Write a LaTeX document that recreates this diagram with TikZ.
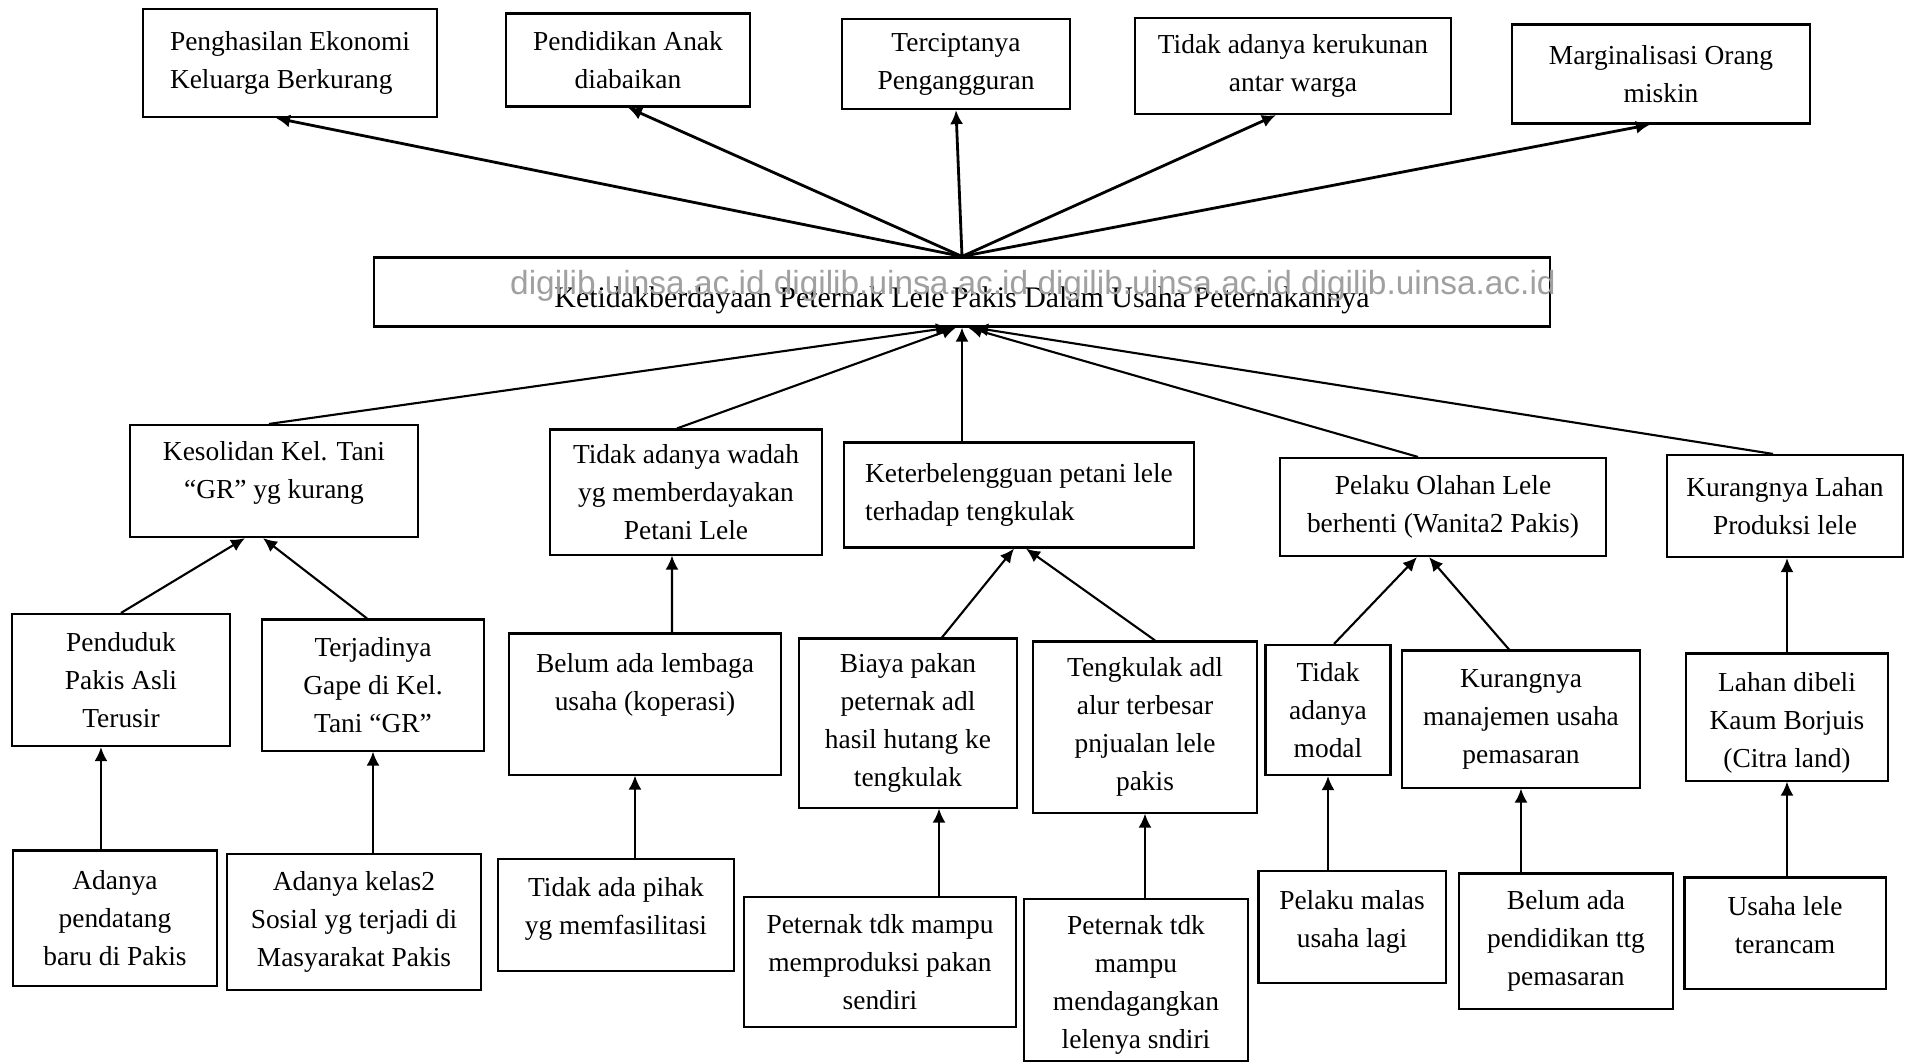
\documentclass[tikz,border=0pt]{standalone}
\usepackage{fontspec}
\setmainfont{Liberation Serif}
\newfontfamily\wmfont{Liberation Sans}
\usepackage{xcolor}
\definecolor{cMark}{HTML}{A0A0A0}
\usepackage{tikz}
\usetikzlibrary{arrows.meta}

\newcommand{\boxfont}{\fontsize{7.8}{10.8}\selectfont}
\newcommand{\lift}[1]{\rule[-#1]{0pt}{#1}}
\newcommand{\drop}[1]{\rule{0pt}{#1}}

\begin{document}
\begin{tikzpicture}[x=0.01cm, y=-0.01cm,
    box/.style={draw, line width=0.6pt, align=center, inner sep=2pt,
                font=\boxfont},
    mainbox/.style={draw, line width=0.6pt, align=center, inner sep=2pt,
                    font=\fontsize{8.5}{10.8}\selectfont},
    wmark/.style={text=cMark, inner sep=0pt,
                  font=\wmfont\fontsize{9.5}{11}\selectfont},
    arr/.style={-{Latex[length=1.4mm, width=1.3mm]}, line width=0.6pt}
]
\useasboundingbox (0,0) rectangle (1905,1062);

% akibat
\node[box, align=left, minimum width=2.93cm, minimum height=1.08cm] (hasil) at (290,63) {Penghasilan Ekonomi\\Keluarga Berkurang};
\node[box, minimum width=2.43cm, minimum height=0.93cm] (didik) at (628,60) {Pendidikan Anak\\diabaikan};
\node[box, minimum width=2.28cm, minimum height=0.90cm] (anggur) at (956,64) {Terciptanya\\Pengangguran};
\node[box, minimum width=3.16cm, minimum height=0.96cm] (rukun) at (1293,66) {Tidak adanya kerukunan\\antar warga};
\node[box, minimum width=2.97cm, minimum height=0.99cm] (margin) at (1661,74) {Marginalisasi Orang\\miskin};

% masalah inti
\node[mainbox, minimum width=11.76cm, minimum height=0.69cm] (inti) at (962,292) {\drop{10.9pt}Ketidakberdayaan Peternak Lele Pakis Dalam Usaha Peternakannya};
\node[wmark] (wm) at (1033,286) {digilib.uinsa.ac.id digilib.uinsa.ac.id digilib.uinsa.ac.id digilib.uinsa.ac.id};

% sebab
\node[box, minimum width=2.88cm, minimum height=1.12cm] (solid) at (274,481) {Kesolidan Kel. Tani\\“GR” yg kurang\lift{6.5pt}};
\node[box, minimum width=2.71cm, minimum height=1.25cm] (wadah) at (686,492) {Tidak adanya wadah\\yg memberdayakan\\Petani Lele};
\node[box, align=left, minimum width=3.49cm, minimum height=1.05cm] (tengk) at (1019,495) {Keterbelengguan petani lele\\terhadap tengkulak};
\node[box, minimum width=3.26cm, minimum height=0.98cm] (olahan) at (1443,507) {Pelaku Olahan Lele\\berhenti (Wanita2 Pakis)};
\node[box, minimum width=2.36cm, minimum height=1.02cm] (lahan) at (1785,506) {Kurangnya Lahan\\Produksi lele};

\node[box, minimum width=2.17cm, minimum height=1.32cm] (usir) at (121,680) {Penduduk\\Pakis Asli\\Terusir};
\node[box, minimum width=2.22cm, minimum height=1.31cm] (gape) at (373,685) {Terjadinya\\Gape di Kel.\\Tani “GR”};
\node[box, minimum width=2.72cm, minimum height=1.41cm] (lembaga) at (645,704) {Belum ada lembaga\\usaha (koperasi)\lift{12.5pt}};
\node[box, minimum width=2.17cm, minimum height=1.69cm] (pakan) at (908,723) {Biaya pakan\\peternak adl\\hasil hutang ke\\tengkulak};
\node[box, minimum width=2.23cm, minimum height=1.71cm] (alur) at (1145,727) {Tengkulak adl\\alur terbesar\\pnjualan lele\\pakis};
\node[box, minimum width=1.25cm, minimum height=1.30cm] (modal) at (1328,710) {Tidak\\adanya\\modal};
\node[box, minimum width=2.37cm, minimum height=1.37cm] (manaj) at (1521,719) {Kurangnya\\manajemen usaha\\pemasaran};
\node[box, minimum width=2.02cm, minimum height=1.27cm] (beli) at (1787,717) {\drop{8.7pt}Lahan dibeli\\Kaum Borjuis\\(Citra land)};

\node[box, minimum width=2.04cm, minimum height=1.35cm] (datang) at (115,918) {Adanya\\pendatang\\baru di Pakis};
\node[box, minimum width=2.54cm, minimum height=1.36cm] (kelas) at (354,922) {Adanya kelas2\\Sosial yg terjadi di\\Masyarakat Pakis};
\node[box, minimum width=2.36cm, minimum height=1.12cm] (pihak) at (616,915) {Tidak ada pihak\\yg memfasilitasi\lift{5.1pt}};
\node[box, minimum width=2.71cm, minimum height=1.30cm] (produksi) at (880,962) {Peternak tdk mampu\\memproduksi pakan\\sendiri};
\node[box, minimum width=2.24cm, minimum height=1.59cm] (dagang) at (1136,980) {\drop{8.1pt}Peternak tdk\\mampu\\mendagangkan\\lelenya sndiri};
\node[box, minimum width=1.87cm, minimum height=1.12cm] (malas) at (1352,927) {Pelaku malas\\usaha lagi\lift{4.5pt}};
\node[box, minimum width=2.14cm, minimum height=1.35cm] (pasar) at (1566,941) {Belum ada\\pendidikan ttg\\pemasaran};
\node[box, minimum width=2.01cm, minimum height=1.11cm] (ancam) at (1785,933) {Usaha lele\\terancam\lift{4.6pt}};

% panah akibat
\draw[arr, line width=0.8pt] (inti.north) -- ([xshift=-0.14cm]hasil.south);
\draw[arr, line width=0.8pt] (inti.north) -- (didik.south);
\draw[arr, line width=0.8pt] (inti.north) -- (anggur.south);
\draw[arr, line width=0.8pt] (inti.north) -- ([xshift=-0.17cm]rukun.south);
\draw[arr, line width=0.8pt] (inti.north) -- ([xshift=-0.11cm]margin.south);

% panah sebab
\draw[arr] ([xshift=-0.05cm]solid.north) -- ([xshift=-0.12cm]inti.south);
\draw[arr] ([xshift=-0.09cm]wadah.north) -- ([xshift=-0.06cm]inti.south);
\draw[arr] (tengk.north -| inti.south) -- (inti.south);
\draw[arr] ([xshift=-0.25cm]olahan.north) -- ([xshift=0.06cm]inti.south);
\draw[arr] ([xshift=-0.12cm]lahan.north) -- ([xshift=0.12cm]inti.south);

\draw[arr] (usir.north) -- ([xshift=-0.29cm]solid.south);
\draw[arr] ([xshift=-0.06cm]gape.north) -- ([xshift=-0.11cm]solid.south);
\draw[arr] ([xshift=0.27cm]lembaga.north) -- ([xshift=-0.14cm]wadah.south);
\draw[arr] ([xshift=0.34cm]pakan.north) -- ([xshift=-0.05cm]tengk.south);
\draw[arr] ([xshift=0.1cm]alur.north) -- ([xshift=0.07cm]tengk.south);
\draw[arr] ([xshift=0.06cm]modal.north) -- ([xshift=-0.26cm]olahan.south);
\draw[arr] ([xshift=-0.12cm]manaj.north) -- ([xshift=-0.14cm]olahan.south);
\draw[arr] (beli.north) -- (beli.north |- lahan.south);

\draw[arr] ([xshift=-0.14cm]datang.north) -- ([xshift=-0.14cm]datang.north |- usir.south);
\draw[arr] (kelas.north -| gape.south) -- (gape.south);
\draw[arr] ([xshift=-0.1cm]lembaga.south |- pihak.north) -- ([xshift=-0.1cm]lembaga.south);
\draw[arr] ([xshift=0.31cm]pakan.south |- produksi.north) -- ([xshift=0.31cm]pakan.south);
\draw[arr] (dagang.north -| alur.south) -- (alur.south);
\draw[arr] (malas.north -| modal.south) -- (modal.south);
\draw[arr] (pasar.north -| manaj.south) -- (manaj.south);
\draw[arr] (ancam.north -| beli.south) -- (beli.south);
\end{tikzpicture}
\end{document}
